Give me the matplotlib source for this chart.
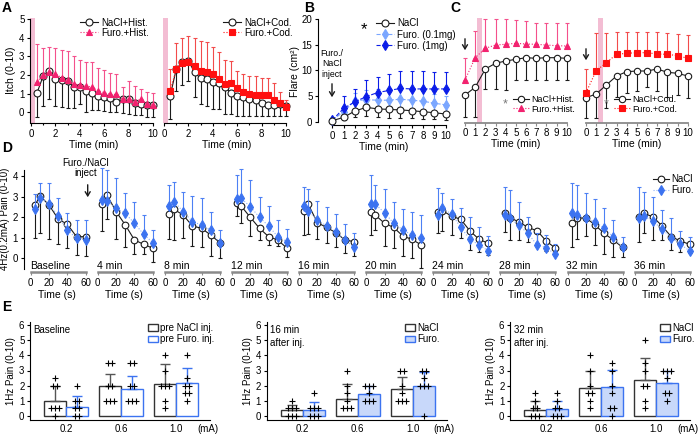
import numpy as np
import matplotlib
matplotlib.use('Agg')
import matplotlib.pyplot as plt
from matplotlib.lines import Line2D
from matplotlib.patches import Patch, FancyArrowPatch

plt.rcParams['font.family'] = ['Liberation Sans', 'DejaVu Sans']
plt.rcParams['font.size'] = 7
plt.rcParams['axes.linewidth'] = 0.8
plt.rcParams['xtick.major.size'] = 2.5
plt.rcParams['ytick.major.size'] = 2.5
plt.rcParams['xtick.major.width'] = 0.8
plt.rcParams['ytick.major.width'] = 0.8
plt.rcParams['xtick.major.pad'] = 1.5
plt.rcParams['ytick.major.pad'] = 1.5
plt.rcParams['xtick.labelsize'] = 7
plt.rcParams['ytick.labelsize'] = 7

# ---------------------------------------------------------------- data
# A: itch ratings, histamine / codeine
a_time = [0.5, 1.0, 1.5, 2.0, 2.5, 3.0, 3.5, 4.0, 4.5, 5.0,
          5.5, 6.0, 6.5, 7.0, 7.5, 8.0, 8.5, 9.0, 9.5, 10.0]
hist_nacl = [1.05, 1.95, 2.2, 1.8, 1.73, 1.68, 1.38, 1.34, 1.16, 1.02,
             0.88, 0.8, 0.75, 0.57, 0.7, 0.7, 0.48, 0.43, 0.41, 0.38]
hist_nacl_err = [1.28, 1.61, 1.47, 1.46, 1.46, 1.47, 1.17, 0.91, 1.12, 0.89,
                 0.75, 0.73, 0.75, 0.53, 0.75, 0.8, 0.62, 0.57, 0.64, 0.61]
hist_furo = [1.64, 2.0, 2.18, 2.05, 1.86, 1.73, 1.52, 1.46, 1.41, 1.34,
             1.16, 1.05, 0.96, 0.96, 0.7, 0.7, 0.57, 0.7, 0.45, 0.38]
hist_furo_err = [2.0, 1.46, 1.3, 1.41, 1.48, 1.56, 1.48, 1.34, 1.27, 1.34,
                 1.23, 1.22, 1.17, 1.08, 0.68, 0.98, 0.84, 0.53, 0.65, 0.67]
cod_nacl = [0.87, 2.3, 2.71, 2.77, 2.14, 1.82, 1.77, 1.64, 1.55, 1.34,
            1.05, 0.87, 0.8, 0.7, 0.66, 0.51, 0.39, 0.39, 0.45, 0.35]
cod_nacl_err = [1.23, 1.16, 1.25, 1.08, 1.34, 1.37, 1.43, 1.46, 1.37, 1.43,
                1.14, 1.07, 1.0, 0.9, 0.86, 0.72, 0.6, 0.6, 0.66, 0.55]
cod_furo = [1.14, 2.3, 2.62, 2.68, 2.48, 2.21, 2.17, 2.05, 1.77, 1.52,
            1.59, 1.29, 1.07, 0.96, 0.93, 0.93, 0.93, 0.66, 0.48, 0.3]
cod_furo_err = [1.16, 1.43, 1.34, 1.42, 1.48, 1.61, 1.58, 1.43, 1.44, 1.28,
                1.16, 0.94, 0.98, 1.0, 1.03, 0.89, 0.89, 0.93, 0.62, 0.36]

# B: flare area
b_time = [0, 1, 2, 3, 4, 5, 6, 7, 8, 9, 10]
flare_nacl = [0.2, 0.85, 2.1, 2.8, 2.5, 2.4, 2.3, 2.15, 1.95, 1.75, 1.5]
flare_nacl_err = [0.3, 0.6, 1.1, 1.7, 1.5, 1.75, 1.65, 1.5, 1.45, 1.25, 1.2]
flare_low = [0.3, 1.95, 4.1, 4.3, 4.2, 4.2, 4.4, 4.2, 4.0, 3.6, 3.3]
flare_low_err = [0.3, 1.2, 1.5, 1.9, 2.2, 2.2, 2.0, 2.0, 2.0, 1.9, 1.8]
flare_high = [0.3, 2.6, 3.9, 4.9, 5.7, 6.1, 6.5, 6.4, 6.4, 6.4, 6.4]
flare_high_err = [0.4, 2.4, 2.5, 3.2, 3.1, 3.3, 3.4, 3.5, 3.5, 3.4, 3.4]

# C: itch (no y scale shown)
c_time = [0, 1, 2, 3, 4, 5, 6, 7, 8, 9, 10]
c_hist_nacl = [2.8, 3.57, 5.4, 5.97, 6.2, 6.37, 6.53, 6.47, 6.53, 6.53, 6.47]
c_hist_nacl_err = [2.17, 2.94, 2.0, 2.57, 2.9, 2.07, 2.23, 2.17, 2.23, 2.23, 2.17]
c_hist_furo = [4.3, 6.53, 7.47, 7.8, 7.87, 7.97, 7.9, 7.87, 7.8, 7.73, 7.7]
c_hist_furo_err = [2.17, 2.67, 2.93, 2.6, 2.53, 2.33, 2.33, 2.16, 2.17, 2.24, 2.27]
c_cod_nacl = [2.53, 2.9, 3.8, 4.7, 5.13, 5.2, 5.2, 5.4, 5.07, 4.97, 4.7]
c_cod_nacl_err = [2.06, 2.43, 2.33, 2.07, 2.16, 2.0, 1.6, 2.2, 2.5, 2.2, 2.2]
c_cod_furo = [3.03, 5.23, 6.03, 6.87, 6.97, 7.03, 7.03, 6.9, 6.87, 6.73, 6.47]
c_cod_furo_err = [2.33, 3.73, 3.0, 2.2, 2.13, 2.1, 2.07, 2.17, 2.1, 2.17, 2.33]

# D: 4Hz pain ratings over 60 s
d_time = [5, 10, 20, 30, 40, 50, 60]
d_labels = ['Baseline', '4 min', '8 min', '12 min', '16 min',
            '20 min', '24 min', '28 min', '32 min', '36 min']
d_nacl = [
    [2.59, 3.04, 2.59, 1.91, 1.65, 1.05, 1.05],
    [2.64, 3.07, 2.27, 1.62, 0.89, 0.68, 0.49],
    [2.15, 2.38, 2.10, 1.57, 1.46, 1.13, 0.76],
    [2.70, 2.54, 1.99, 1.46, 1.05, 0.89, 0.49],
    [2.30, 2.62, 1.73, 1.50, 1.25, 0.89, 0.81],
    [2.27, 2.10, 1.70, 1.50, 1.08, 0.92, 0.65],
    [2.27, 2.31, 2.05, 1.89, 1.33, 0.92, 0.73],
    [2.18, 1.97, 1.78, 1.50, 1.34, 0.84, 0.49],
    [1.70, 1.94, 1.97, 1.62, 1.21, 0.89, 0.53],
    [2.02, 2.18, 2.02, 1.57, 1.05, 0.84, 0.68]]
d_nacl_err = [
    [1.62, 1.79, 1.65, 1.23, 1.16, 0.89, 0.92],
    [1.30, 1.18, 1.33, 1.05, 0.68, 0.47, 0.65],
    [1.23, 1.49, 1.10, 0.97, 0.89, 1.02, 0.76],
    [0.64, 0.84, 0.89, 0.57, 0.40, 0.29, 0.44],
    [1.17, 1.45, 0.81, 0.77, 0.72, 0.61, 0.70],
    [1.14, 0.72, 1.10, 1.01, 0.97, 0.92, 1.14],
    [1.02, 0.97, 0.92, 0.92, 0.93, 0.60, 0.57],
    [0.89, 1.08, 0.89, 0.70, 0.60, 0.50, 0.30],
    [1.17, 1.00, 0.89, 0.97, 1.00, 0.81, 0.45],
    [1.24, 0.97, 1.13, 0.68, 0.65, 0.52, 0.44]]
d_furo = [
    [2.38, 2.95, 2.64, 2.05, 1.38, 0.97, 0.89],
    [2.83, 2.80, 2.43, 2.18, 1.70, 1.17, 0.76],
    [2.54, 2.75, 2.27, 1.78, 1.62, 1.38, 0.73],
    [2.86, 2.91, 2.51, 1.99, 1.57, 1.05, 0.81],
    [2.54, 2.30, 1.86, 1.57, 1.29, 0.89, 0.53],
    [2.62, 2.62, 2.22, 1.70, 1.38, 1.13, 0.97],
    [2.10, 2.43, 2.15, 1.50, 0.92, 0.65, 0.36],
    [2.10, 1.94, 1.62, 1.21, 0.65, 0.52, 0.19],
    [2.18, 2.10, 1.94, 1.78, 1.46, 1.05, 0.53],
    [1.97, 2.05, 1.81, 1.41, 1.00, 0.68, 0.36]]
d_furo_err = [
    [0.74, 0.69, 1.00, 0.86, 0.84, 0.89, 0.97],
    [1.54, 1.49, 1.45, 1.01, 1.05, 0.93, 0.62],
    [1.02, 0.97, 0.97, 1.25, 1.29, 0.89, 0.65],
    [1.19, 1.43, 1.29, 0.97, 0.99, 0.81, 0.61],
    [0.94, 1.07, 0.92, 0.94, 0.86, 0.78, 0.72],
    [1.43, 0.94, 1.13, 1.05, 1.00, 1.14, 1.13],
    [1.30, 0.73, 0.71, 0.93, 1.08, 0.85, 0.74],
    [1.38, 1.38, 1.13, 0.78, 0.60, 0.60, 0.50],
    [1.49, 1.46, 1.25, 1.08, 0.97, 0.81, 0.52],
    [1.48, 1.19, 1.18, 0.94, 0.94, 0.66, 0.69]]

# E: 1Hz pain at three intensities
e_currents = ['0.2', '0.6', '1.0']
e_titles = ['Baseline', '16 min\nafter inj.', '32 min\nafter inj.']
e_legend = [['pre NaCl inj.', 'pre Furo. inj.'], ['NaCl', 'Furo.'], ['NaCl', 'Furo.']]
e_nacl_mean = [[1.0, 2.0, 2.1], [0.42, 1.15, 1.75], [0.42, 1.85, 2.35]]
e_nacl_err = [[1.0, 0.8, 1.3], [0.33, 0.95, 0.85], [0.58, 1.15, 1.45]]
e_furo_mean = [[0.6, 1.8, 2.15], [0.42, 1.47, 2.0], [0.48, 1.9, 2.15]]
e_furo_err = [[0.7, 0.85, 1.0], [0.53, 0.53, 0.9], [0.52, 1.15, 0.85]]
e_nacl_pts = [
    [[2.5, 2, 2, 0.5, 0.5, 0.5, 0], [3.5, 3.5, 2, 2, 1, 1, 1], [4, 3, 2, 2, 2, 1, 0.5]],
    [[1, 0.5, 0.5, 0.5, 0, 0, 0], [3, 2, 1.5, 1, 0.5, 0.5, 0.5], [3, 3, 2, 1.5, 1, 1, 1]],
    [[1.5, 1, 0.5, 0.5, 0, 0, 0], [4, 3, 2, 1.5, 1.5, 1, 0.5], [5, 3.5, 3, 2, 2, 1, 0.5]]]
e_furo_pts = [
    [[2, 1, 1, 0.5, 0.5, 0, 0], [3.5, 3.5, 2, 2, 1, 1, 1], [4, 2.5, 2, 2, 1.5, 1.5, 1]],
    [[1.5, 0.5, 0.5, 0.5, 0, 0, 0], [2, 2, 2, 1.5, 1, 1, 1], [3, 3, 2.5, 2, 2, 2, 0]],
    [[1.5, 1, 0.5, 0.5, 0, 0, 0], [3.5, 3, 2, 1.5, 0.5, 0.5, 0], [3, 3, 3, 2.5, 1.5, 1.5, 1]]]

# ---------------------------------------------------------------- style
BLACK = '#1a1a1a'
PINK = '#f2226f'
PINK_ERR = '#f4508c'
RED = '#ff1010'
RED_ERR = '#f24b4b'
SHADE = '#f3bdd3'
BLUE = '#3c73f0'
BLUE_ERR = '#4d80f4'
BLUE_LINE = '#8fb0f8'
LIGHT_BLUE = '#7aa6ff'
DARK_BLUE = '#0b1de8'
AXGRAY = '#8a8a8a'
E_FILL = '#c8d8fa'

W, H = 700, 434
fig = plt.figure(figsize=(W / 100, H / 100), dpi=100)


def fxy(x, y):
    return (x / W, 1 - y / H)


def make_ax(l, r, t, b, xcal, ycal):
    """axes placed in pixels; xcal/ycal = ((px, value), (px, value))"""
    ax = fig.add_axes([l / W, 1 - b / H, (r - l) / W, (b - t) / H])
    (p0, v0), (p1, v1) = xcal
    s = (v1 - v0) / (p1 - p0)
    ax.set_xlim(v0 + (l - p0) * s, v0 + (r - p0) * s)
    (q0, w0), (q1, w1) = ycal
    s = (w1 - w0) / (q1 - q0)
    ax.set_ylim(w0 + (b - q0) * s, w0 + (t - q0) * s)
    ax.patch.set_alpha(0)
    ax.spines['top'].set_visible(False)
    ax.spines['right'].set_visible(False)
    return ax


def series(ax, x, y, err, color, marker, ls, side, ecolor=None, ms=5, mfc=None, z=3, cap=1.5, lcolor=None):
    zeros = [0] * len(err)
    lo = err if side in ('down', 'both') else zeros
    hi = err if side in ('up', 'both') else zeros
    ax.errorbar(x, y, yerr=[lo, hi], fmt='none', ecolor=ecolor or color,
                elinewidth=0.8, capsize=cap, capthick=0.8, zorder=z)
    ax.plot(x, y, color=lcolor or color, ls=ls, lw=0.8, marker=marker, ms=ms,
            mfc=mfc or color, mec=color, mew=0.8, zorder=z + 0.5)


def handle(color, marker, ls, mfc=None, ms=5, lcolor=None):
    return Line2D([], [], color=lcolor or color, ls=ls, lw=0.8, marker=marker, ms=ms,
                  mfc=mfc or color, mec=color, mew=0.8)


def px_legend(ax, handles, labels, x, y, fs=7, spacing=0.1, hl=1.9):
    ax.legend(handles, labels, loc='upper left', bbox_to_anchor=fxy(x, y),
              bbox_transform=fig.transFigure, frameon=False, fontsize=fs,
              borderpad=0, borderaxespad=0, labelspacing=spacing,
              handlelength=hl, handletextpad=0.25)


def bracket(x, y0, y1, w=2.5, color=BLACK):
    fig.add_artist(Line2D([x + w, x, x, x + w], [1 - y0 / H, 1 - y0 / H, 1 - y1 / H, 1 - y1 / H],
                          transform=fig.transFigure, color=color, lw=0.8))


def arrow(x, y0, y1):
    fig.add_artist(FancyArrowPatch(
        fxy(x, y0), fxy(x, y1), transform=fig.transFigure,
        arrowstyle='->,head_length=3,head_width=1.8', lw=1.0, color=BLACK))


# ---------------------------------------------------------------- A
a_x = [31, 164]
a_series = [(hist_nacl, hist_nacl_err, hist_furo, hist_furo_err, PINK, PINK_ERR, '^', 'Hist.'),
            (cod_nacl, cod_nacl_err, cod_furo, cod_furo_err, RED, RED_ERR, 's', 'Cod.')]
for k in range(2):
    x0 = a_x[k]
    ax = make_ax(x0 - 1, x0 + 127, 18, 123, ((x0, 0), (x0 + 122, 10)), ((112.3, 0), (19, 5)))
    nacl, nacl_err, furo, furo_err, col, ecol, mk, drug = a_series[k]
    ax.axvspan(-0.08, 0.3, color=SHADE, lw=0, zorder=0)
    series(ax, a_time, nacl, nacl_err, BLACK, 'o', '-', 'down', mfc='white', ms=5, z=3)
    series(ax, a_time, furo, furo_err, col, mk, ':', 'up', ecolor=ecol, ms=5 if mk == '^' else 4.5, z=4)
    ax.set_xticks([0, 2, 4, 6, 8, 10])
    ax.set_xticks([1, 3, 5, 7, 9], minor=True)
    ax.tick_params(axis='x', which='minor', length=1.5, width=0.8)
    ax.spines['bottom'].set_bounds(0, 10)
    ax.set_xlabel('Time (min)', fontsize=7.5, labelpad=1)
    if k == 0:
        ax.set_yticks([0, 1, 2, 3, 4, 5])
        ax.spines['left'].set_bounds(-0.55, 5)
        ax.set_ylabel('Itch (0-10)', fontsize=7.5, labelpad=2)
    else:
        ax.spines['left'].set_visible(False)
        ax.set_yticks([])
    px_legend(ax, [handle(BLACK, 'o', '-', 'white'), handle(col, mk, ':', ms=5 if mk == '^' else 4.5)],
              ['NaCl+' + drug, 'Furo.+' + drug], [80, 223][k], 17.5, spacing=0.0)
fig.text(*fxy(2, 1), 'A', fontsize=10, fontweight='bold', va='top')

# ---------------------------------------------------------------- B
ax = make_ax(318, 450, 18, 125, ((332.3, 0), (445.7, 10)), ((121.7, 0), (19.3, 20)))
series(ax, b_time, flare_nacl, flare_nacl_err, BLACK, 'o', '-', 'down', mfc='white', z=5)
series(ax, b_time, flare_low, flare_low_err, LIGHT_BLUE, 'd', '--', 'both', z=3)
series(ax, b_time, flare_high, flare_high_err, DARK_BLUE, 'd', '--', 'up', z=4)
ax.set_xticks(b_time)
ax.set_yticks([0, 5, 10, 15, 20])
ax.spines['left'].set_bounds(0, 20)
ax.spines['bottom'].set_bounds(0, 10)
ax.set_xlabel('Time (min)', fontsize=7.5, labelpad=1)
ax.set_ylabel('Flare (cm²)', fontsize=7.5, labelpad=1)
px_legend(ax, [handle(BLACK, 'o', '-', 'white'), handle(LIGHT_BLUE, 'd', '--'), handle(DARK_BLUE, 'd', '--')],
          ['NaCl', 'Furo. (0.1mg)', 'Furo. (1mg)'], 376, 18.5, spacing=0.12)
fig.text(*fxy(364, 30), '*', fontsize=12, ha='center', va='center')
bracket(369.5, 24, 37)
bracket(372, 37, 47)
fig.text(*fxy(332, 64), 'Furo./\nNaCl\ninject', fontsize=6.3, ha='center', va='center', linespacing=1.25)
arrow(332, 81, 100)
fig.text(*fxy(304, 1), 'B', fontsize=10, fontweight='bold', va='top')

# ---------------------------------------------------------------- C
c_x = [465, 586]
c_series = [(c_hist_nacl, c_hist_nacl_err, c_hist_furo, c_hist_furo_err, PINK, PINK_ERR, '^', 'Hist.'),
            (c_cod_nacl, c_cod_nacl_err, c_cod_furo, c_cod_furo_err, RED, RED_ERR, 's', 'Cod.')]
c_arrow = [(36, 53), (46, 63)]
for k in range(2):
    x0 = c_x[k]
    ax = make_ax(x0 - 4, x0 + 106, 18, 123, ((x0, 0), (x0 + 101.7, 10)), ((123, 0), (19, 10.4)))
    nacl, nacl_err, furo, furo_err, col, ecol, mk, drug = c_series[k]
    ax.axvspan(1.2, 1.7, color=SHADE, lw=0, zorder=0)
    series(ax, c_time, nacl, nacl_err, BLACK, 'o', '-', 'down', mfc='white', ms=4.6, z=3)
    series(ax, c_time, furo, furo_err, col, mk, ':', 'up', ecolor=ecol, ms=4.8 if mk == '^' else 4.5, z=4)
    ax.spines['left'].set_visible(False)
    ax.set_yticks([])
    ax.set_xticks(c_time)
    ax.spines['bottom'].set_bounds(0, 10)
    ax.spines['bottom'].set_color(AXGRAY)
    ax.spines['bottom'].set_linewidth(1.3)
    ax.tick_params(axis='x', color=AXGRAY, pad=1)
    ax.set_xlabel('Time (min)', fontsize=7.5, labelpad=1)
    lx = [513, 614][k]
    px_legend(ax, [handle(BLACK, 'o', '-', 'white', ms=4.6), handle(col, mk, ':', ms=4.5)],
              ['NaCl+' + drug, 'Furo.+' + drug], lx, 95.5, fs=6.4, spacing=0.0, hl=1.8)
    fig.text(*fxy(lx - 8, 104), '*', fontsize=9, color='#777777', ha='center', va='center')
    bracket(lx - 3, 99.5, 107.5, w=2)
    arrow(x0, c_arrow[k][0], c_arrow[k][1])
fig.text(*fxy(450, 1), 'C', fontsize=10, fontweight='bold', va='top')

# ---------------------------------------------------------------- D
for i in range(10):
    x0 = 30.7 + i * 67.1
    ax = make_ax(x0 - 7, x0 + 60, 165, 272, ((x0, 0), (x0 + 55, 60)), ((258.3, 0), (176, 4)))
    series(ax, d_time, d_nacl[i], d_nacl_err[i], BLACK, 'o', '-', 'down', mfc='white', ms=4.8, z=3)
    series(ax, d_time, d_furo[i], d_furo_err[i], BLUE, 'd', ':', 'up', ecolor=BLUE_ERR, ms=5, z=4,
           lcolor=BLUE_LINE)
    ax.set_xticks([0, 20, 40, 60])
    ax.spines['bottom'].set_bounds(0, 60)
    ax.spines['bottom'].set_color(AXGRAY)
    ax.spines['bottom'].set_linewidth(1.8)
    ax.tick_params(axis='x', color=AXGRAY, pad=1.5)
    ax.set_xlabel('Time (s)', fontsize=7.5, labelpad=2)
    if i == 0:
        ax.set_yticks([0, 1, 2, 3, 4])
        ax.spines['left'].set_bounds(-0.5, 4.3)
        ax.set_ylabel('4Hz(0.2mA) Pain (0-10)', fontsize=7, labelpad=2)
    else:
        ax.spines['left'].set_visible(False)
        ax.set_yticks([])
    fig.text(*fxy(x0 - 1, 266), d_labels[i], fontsize=7.5, va='center')
    if i == 9:
        px_legend(ax, [handle(BLACK, 'o', '-', 'white', ms=4.8),
                       handle(BLUE, 'd', ':', ms=5, lcolor=BLUE_LINE)],
                  ['NaCl', 'Furo.'], 653, 174, fs=7, spacing=0.1, hl=1.6)
fig.text(*fxy(86, 168), 'Furo./NaCl\ninject', fontsize=7, ha='center', va='center', linespacing=1.1)
arrow(87.7, 182, 200)
fig.text(*fxy(2, 141), 'D', fontsize=10, fontweight='bold', va='top')

# ---------------------------------------------------------------- E
e_axis_x = [30, 266.7, 510]
e_groups = [0, 1, 2]
for k in range(3):
    x0 = e_axis_x[k]
    ax = make_ax(x0, x0 + 180, 322, 420, ((x0 + 36, 0), (x0 + 91, 1)), ((416, 0), (325, 6)))
    furo_face = 'white' if k == 0 else E_FILL
    nx = [g - 0.2 for g in e_groups]
    fx = [g + 0.2 for g in e_groups]
    ax.bar(nx, e_nacl_mean[k], width=0.4, facecolor='white', edgecolor='#333333', lw=1.0, zorder=2)
    ax.bar(fx, e_furo_mean[k], width=0.4, facecolor=furo_face, edgecolor=BLUE, lw=1.0, zorder=2)
    ax.errorbar(nx, e_nacl_mean[k], yerr=[[0] * 3, e_nacl_err[k]], fmt='none', ecolor='#555555',
                elinewidth=1.0, capsize=3.5, capthick=1.0, zorder=3)
    ax.errorbar(fx, e_furo_mean[k], yerr=[[0] * 3, e_furo_err[k]], fmt='none', ecolor=BLUE,
                elinewidth=1.0, capsize=3.5, capthick=1.0, zorder=3)
    # individual subjects, spread sideways when values coincide
    for centers, pts_all in ((nx, e_nacl_pts[k]), (fx, e_furo_pts[k])):
        for c, pts in zip(centers, pts_all):
            xs = []
            for j, v in enumerate(pts):
                n_same = pts.count(v)
                idx = pts[:j].count(v)
                xs.append(c + (idx - (n_same - 1) / 2) * 0.07)
            ax.scatter(xs, pts, marker='+', s=14, color='black', linewidths=0.8, zorder=4)
    ax.set_yticks([0, 1, 2, 3, 4, 5, 6])
    ax.set_xticks(e_groups)
    ax.set_xticklabels(e_currents)
    ax.tick_params(axis='x', length=0, pad=3)
    ax.annotate('(mA)', xy=(2.38, 0), xycoords=('data', 'axes fraction'),
                xytext=(0, -3), textcoords='offset points', fontsize=7, ha='left', va='top')
    ax.set_ylabel('1Hz Pain (0-10)', fontsize=7, labelpad=2)
    ax.text(0.02, 0.97, e_titles[k], transform=ax.transAxes, fontsize=7, va='top', linespacing=1.35)
    lx = [148, 405, 660][k]
    px_legend(ax, [Patch(facecolor='white', edgecolor='#333333', lw=1.0),
                   Patch(facecolor=furo_face, edgecolor=BLUE, lw=1.0)],
              e_legend[k], lx, 323, fs=7, spacing=0.15, hl=1.0)
fig.text(*fxy(2, 300), 'E', fontsize=10, fontweight='bold', va='top')

fig.savefig('out.png', dpi=100)
